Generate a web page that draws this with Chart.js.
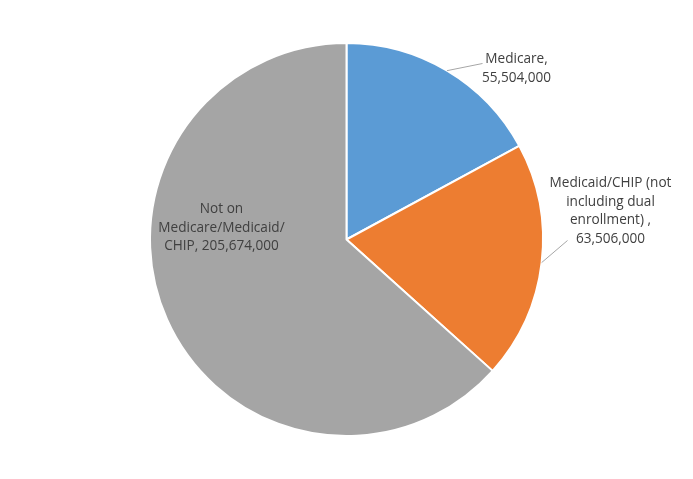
<!DOCTYPE html>
<html>
<head>
<meta charset="utf-8">
<script src="https://cdn.jsdelivr.net/npm/chart.js@4"></script>
<style>
  html, body { margin: 0; padding: 0; background: #fff; }
  #wrap { width: 693px; height: 479px; }
</style>
</head>
<body>
<div id="wrap"><canvas id="pieChart" width="693" height="479"></canvas></div>
<script>
const categories = ['Medicare', 'Medicaid/CHIP (not including dual enrollment) ', 'Not on Medicare/Medicaid/CHIP'];
const enrollment = [55504000, 63506000, 205674000];
const sliceColors = ['#5B9BD5', '#ED7D31', '#A5A5A5'];

// label text lines per slice (as shown on the chart)
const labelLines = [
    ['Medicare,', '55,504,000'],
    ['Medicaid/CHIP (not', 'including dual', 'enrollment) ,', '63,506,000'],
    ['Not on', 'Medicare/Medicaid/', 'CHIP, 205,674,000']
];

const labelFont = '13.6px "Open Sans", sans-serif';
const labelColor = '#404040';
const lineH = 18.5;

const pieLabels = {
    id: 'pieLabels',
    afterDatasetsDraw(chart) {
        const ctx = chart.ctx;
        const arcs = chart.getDatasetMeta(0).data;
        ctx.save();
        ctx.font = labelFont;
        ctx.fillStyle = labelColor;
        ctx.textAlign = 'center';
        ctx.textBaseline = 'middle';

        arcs.forEach((arc, i) => {
            const cx = arc.x, cy = arc.y, r = arc.outerRadius;
            const mid = (arc.startAngle + arc.endAngle) / 2;
            const sx = cx + Math.cos(mid) * r;
            const sy = cy + Math.sin(mid) * r;
            const lines = labelLines[i];

            if (i === 0) {
                // outside, upper right
                const ex = cx + 136, ey = cy - 176;
                drawLeader(ctx, sx, sy, ex, ey);
                const tx = cx + 170;
                lines.forEach((t, k) => ctx.fillText(t, tx, cy - 180 + k * lineH));
            } else if (i === 1) {
                const ex = cx + 221, ey = cy + 1;
                drawLeader(ctx, sx, sy, ex, ey);
                const tx = cx + 264;
                lines.forEach((t, k) => ctx.fillText(t, tx, cy - 56 + k * lineH));
            } else {
                const tx = cx - 125;
                lines.forEach((t, k) => ctx.fillText(t, tx, cy - 30 + k * lineH));
            }
        });
        ctx.restore();
    }
};

function drawLeader(ctx, x1, y1, x2, y2) {
    ctx.save();
    ctx.strokeStyle = '#A6A6A6';
    ctx.lineWidth = 1;
    ctx.beginPath();
    ctx.moveTo(x1, y1);
    ctx.lineTo(x2, y2);
    ctx.stroke();
    ctx.restore();
}

const pieCtx = document.getElementById('pieChart').getContext('2d');
new Chart(pieCtx, {
    type: 'pie',
    data: {
        labels: categories,
        datasets: [{
            data: enrollment,
            backgroundColor: sliceColors,
            borderColor: '#ffffff',
            borderWidth: 2,
            hoverOffset: 0
        }]
    },
    options: {
        responsive: false,
        animation: false,
        layout: { padding: { top: 42, bottom: 42, left: 0, right: 0 } },
        plugins: {
            legend: { display: false },
            tooltip: { enabled: false }
        }
    },
    plugins: [pieLabels]
});
</script>
</body>
</html>
